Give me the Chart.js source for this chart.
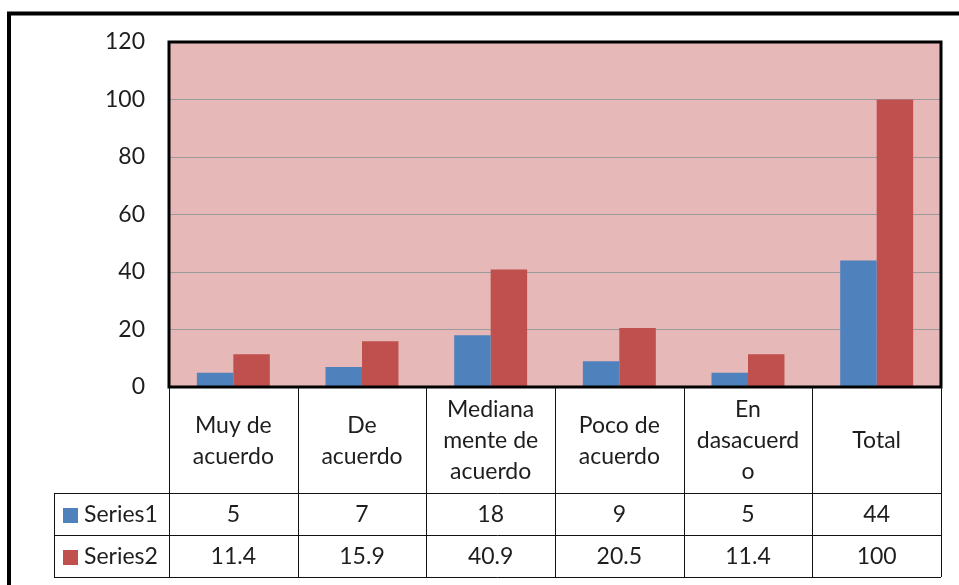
<!DOCTYPE html>
<html>
<head>
<meta charset="utf-8">
<script src="https://cdn.jsdelivr.net/npm/chart.js@4.4.1/dist/chart.umd.min.js"></script>
<style>
  html, body { margin: 0; padding: 0; background: #ffffff; }
  #wrap { width: 959px; height: 585px; position: relative; }
</style>
</head>
<body>
<div id="wrap"><canvas id="c" width="959" height="585"></canvas></div>
<script>
const categories = [
  ["Muy de", "acuerdo"],
  ["De", "acuerdo"],
  ["Mediana", "mente de", "acuerdo"],
  ["Poco de", "acuerdo"],
  ["En", "dasacuerd", "o"],
  ["Total"]
];
const seriesNames = ["Series1", "Series2"];
const series1 = [5, 7, 18, 9, 5, 44];
const series2 = [11.4, 15.9, 40.9, 20.5, 11.4, 100];
const yTicks = [0, 20, 40, 60, 80, 100, 120];

const FONT = "Lato, 'Open Sans', sans-serif";
const TEXT = "#1e1e1e";

const framePlugin = {
  id: 'frame',
  beforeDraw(chart) {
    const ctx = chart.ctx, a = chart.chartArea;
    ctx.save();
    ctx.fillStyle = '#ffffff';
    ctx.fillRect(0, 0, chart.width, chart.height);
    ctx.fillStyle = '#E6B8B7';
    ctx.fillRect(a.left, a.top, a.right - a.left, a.bottom - a.top);
    // outer chart frame
    ctx.strokeStyle = '#000';
    ctx.lineWidth = 4;
    ctx.strokeRect(9, 13.5, chart.width + 50, chart.height + 50);
    ctx.restore();
  },
  afterDatasetsDraw(chart) {
    const ctx = chart.ctx, a = chart.chartArea;
    ctx.save();
    ctx.strokeStyle = '#000';
    ctx.lineWidth = 3;
    ctx.strokeRect(a.left, a.top, a.right - a.left, a.bottom - a.top);
    ctx.restore();
  },
  afterDraw(chart) {
    const ctx = chart.ctx, a = chart.chartArea;
    const xs = chart.scales.x;
    const n = chart.data.labels.length;
    const colW = (a.right - a.left) / n;
    const headTop = a.bottom;
    const headBottom = a.bottom + 106;
    const rowH = 42;
    const tableBottom = headBottom + rowH * chart.data.datasets.length;
    const legLeft = 54;
    ctx.save();
    ctx.strokeStyle = '#111';
    ctx.lineWidth = 1;
    ctx.beginPath();
    // vertical lines
    for (let i = 0; i <= n; i++) {
      const x = Math.round(a.left + i * colW) + 0.5;
      ctx.moveTo(x, headTop);
      ctx.lineTo(x, tableBottom);
    }
    ctx.moveTo(legLeft + 0.5, headBottom);
    ctx.lineTo(legLeft + 0.5, tableBottom);
    // horizontal lines
    for (let r = 0; r <= chart.data.datasets.length; r++) {
      const y = Math.round(headBottom + r * rowH) + 0.5;
      ctx.moveTo(legLeft, y);
      ctx.lineTo(a.right, y);
    }
    ctx.stroke();

    ctx.fillStyle = TEXT;
    ctx.font = "23px " + FONT;
    ctx.textAlign = 'center';
    ctx.textBaseline = 'middle';
    const lh = 31;
    chart.data.labels.forEach((lab, i) => {
      const cx = xs.getPixelForValue(i);
      const lines = Array.isArray(lab) ? lab : [lab];
      const cy = (headTop + headBottom) / 2 + 1;
      lines.forEach((t, k) => {
        ctx.fillText(t, cx, cy + (k - (lines.length - 1) / 2) * lh);
      });
    });
    chart.data.datasets.forEach((ds, r) => {
      const cy = headBottom + r * rowH + rowH / 2 + 1;
      ctx.fillStyle = ds.backgroundColor;
      ctx.fillRect(63, cy - 7, 15, 15);
      ctx.fillStyle = TEXT;
      ctx.textAlign = 'left';
      ctx.fillText(ds.label, 84, cy);
      ctx.textAlign = 'center';
      ds.data.forEach((v, i) => {
        ctx.fillText(String(v), xs.getPixelForValue(i), cy);
      });
    });
    ctx.restore();
  }
};

new Chart(document.getElementById('c'), {
  type: 'bar',
  data: {
    labels: categories,
    datasets: [
      { label: seriesNames[0], data: series1, backgroundColor: '#4F81BD', borderWidth: 0 },
      { label: seriesNames[1], data: series2, backgroundColor: '#C0504D', borderWidth: 0 }
    ]
  },
  options: {
    responsive: false,
    animation: false,
    devicePixelRatio: 1,
    layout: { padding: { left: 0, top: 42, right: 18, bottom: 198 } },
    plugins: { legend: { display: false }, tooltip: { enabled: false } },
    datasets: { bar: { categoryPercentage: 0.567, barPercentage: 1.0 } },
    scales: {
      x: {
        grid: { display: false },
        border: { display: false },
        ticks: { display: false },
        afterFit(s) { s.height = 0; }
      },
      y: {
        min: 0,
        max: 120,
        afterBuildTicks(s) { s.ticks = yTicks.map(v => ({ value: v })); },
        grid: { color: '#9a9a9a', lineWidth: 1, drawTicks: false },
        border: { display: false },
        ticks: { font: { family: FONT, size: 23 }, color: TEXT, padding: 24 },
        afterFit(s) { s.width = 169; }
      }
    }
  },
  plugins: [framePlugin]
});
</script>
</body>
</html>
